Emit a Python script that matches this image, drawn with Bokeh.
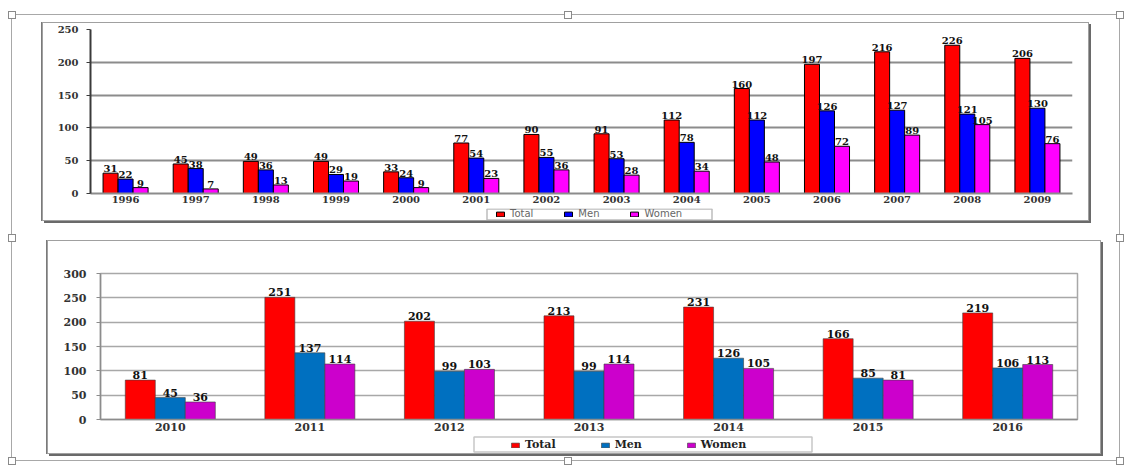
from bokeh.plotting import figure
from bokeh.models import (ColumnDataSource, FactorRange, Range1d, Legend, LegendItem,
                          FixedTicker, InlineStyleSheet, Spacer, BoxAnnotation)
from bokeh.transform import dodge
from bokeh.layouts import column, row
from bokeh.core.properties import value
from bokeh.embed import file_html
from bokeh.resources import INLINE

# ---------------- data ----------------
years_a = ["1996", "1997", "1998", "1999", "2000", "2001", "2002",
           "2003", "2004", "2005", "2006", "2007", "2008", "2009"]
total_a = [31, 45, 49, 49, 33, 77, 90, 91, 112, 160, 197, 216, 226, 206]
men_a = [22, 38, 36, 29, 24, 54, 55, 53, 78, 112, 126, 127, 121, 130]
women_a = [9, 7, 13, 19, 9, 23, 36, 28, 34, 48, 72, 89, 105, 76]
ticks_a = [0, 50, 100, 150, 200, 250]

years_b = ["2010", "2011", "2012", "2013", "2014", "2015", "2016"]
total_b = [81, 251, 202, 213, 231, 166, 219]
men_b = [45, 137, 99, 99, 126, 85, 106]
women_b = [36, 114, 103, 114, 105, 81, 113]
ticks_b = [0, 50, 100, 150, 200, 250, 300]

series = ["Total", "Men", "Women"]
colors_a = ["#ff0000", "#0000ff", "#ff00ff"]
colors_b = ["#ff0000", "#0070c0", "#cc00cc"]

SERIF_NAME = "DejaVu Serif"
SERIF = value(SERIF_NAME)

BOX_SHADOW = "0 0 0 1px #a0a0a0, 2px 2px 0 1px #6a6a6a, -1px 0 0 1px #7a7a7a"


def make_chart(years, total, men, women, ticks, ymax, colors, width, height,
               borders, bw, label_size, xlab_size, ylab_size, outline_bars):
    src = ColumnDataSource(dict(
        year=years, Total=total, Men=men, Women=women,
        Total_s=[str(v) for v in total], Men_s=[str(v) for v in men],
        Women_s=[str(v) for v in women]))
    bl, br, bt, bb = borders
    p = figure(x_range=FactorRange(factors=years), y_range=Range1d(0, ymax),
               width=width, height=height, output_backend="svg", toolbar_location=None,
               min_border_left=bl, min_border_right=br, min_border_top=bt,
               min_border_bottom=bb)
    for name, col, off in zip(series, colors, [-bw, 0, bw]):
        p.vbar(x=dodge("year", off, range=p.x_range), top=name, width=bw,
               source=src, fill_color=col,
               line_color="black" if outline_bars else "#404040",
               line_width=1 if outline_bars else 0.6)
        p.text(x=dodge("year", off, range=p.x_range), y=name, text=name + "_s",
               source=src, text_align="center", text_baseline="bottom",
               y_offset=-1, text_font=SERIF, text_font_style="bold",
               text_font_size=label_size, text_color="#111111")
    p.xgrid.grid_line_color = None
    p.yaxis.ticker = FixedTicker(ticks=ticks)
    p.yaxis.minor_tick_line_color = None
    p.yaxis.major_tick_in = 0
    p.yaxis.major_tick_out = 4
    p.yaxis.major_label_text_font = SERIF_NAME
    p.yaxis.major_label_text_font_style = "bold"
    p.yaxis.major_label_text_font_size = ylab_size
    p.yaxis.major_label_text_color = "#333333"
    p.xaxis.major_tick_line_color = None
    p.xaxis.major_tick_in = 0
    p.xaxis.major_tick_out = 0
    p.xaxis.minor_tick_line_color = None
    p.xaxis.major_label_text_font = SERIF_NAME
    p.xaxis.major_label_text_font_style = "bold"
    p.xaxis.major_label_text_font_size = xlab_size
    p.xaxis.major_label_text_color = "#333333"
    p.xaxis.major_label_standoff = 2
    return p


def make_legend_strip(width, height, frame_w, colors, outline_bars, loc, box, font,
                      font_style, font_size, text_color, glyph_w, spacing, border_color):
    # the strip's frame is aligned with the chart frame above it (frame_w pixels wide)
    q = figure(width=width, height=height, x_range=Range1d(0, frame_w),
               y_range=Range1d(0, height), min_border=0, x_axis_location=None,
               y_axis_location=None, toolbar_location=None, output_backend="svg")
    q.grid.visible = False
    q.outline_line_color = None
    items = []
    for name, col in zip(series, colors):
        r = q.vbar(x=[-5000], top=[0], width=1, fill_color=col,
                   line_color="black" if outline_bars else "#404040",
                   line_width=1 if outline_bars else 0.6)
        items.append(LegendItem(label=name, renderers=[r]))
    leg = Legend(items=items, orientation="horizontal", location=loc,
                 border_line_color=None, background_fill_alpha=0,
                 label_text_font=font, label_text_font_style=font_style,
                 label_text_font_size=font_size, label_text_color=text_color,
                 glyph_width=glyph_w, glyph_height=6, label_standoff=5,
                 spacing=spacing, padding=0, margin=0, label_height=8)
    q.add_layout(leg, "center")
    l, r_, b, t = box
    q.add_layout(BoxAnnotation(left=l, right=r_, bottom=b, top=t, fill_alpha=0,
                               line_color=border_color, line_width=1.5))
    return q


# ---------------- top chart (1996-2009) ----------------
p1 = make_chart(years_a, total_a, men_a, women_a, ticks_a, 250, colors_a,
                1045, 185, (47, 16, 6, 15), 0.214, "10px", "10px", "10px", True)
p1.ygrid.grid_line_color = "#8c8c8c"
p1.ygrid.grid_line_width = 2
p1.yaxis.axis_line_color = "#3a3a3a"
p1.yaxis.axis_line_width = 2
p1.yaxis.major_tick_line_color = "#3a3a3a"
p1.yaxis.major_label_standoff = 8
p1.xaxis.axis_line_color = "#8c8c8c"
p1.xaxis.axis_line_width = 2
p1.outline_line_color = None

lg1 = make_legend_strip(1045, 12, 982, colors_a, True, (405, 1), (396.5, 621.5, 0.5, 11.5),
                        "DejaVu Sans", "normal", "10px", "#666666", 10, 30, "#222222")
chart1 = column(p1, lg1, spacing=0, styles={"box-shadow": BOX_SHADOW})

# ---------------- bottom chart (2010-2016) ----------------
p2 = make_chart(years_b, total_b, men_b, women_b, ticks_b, 300, colors_b,
                1052, 194, (52, 23, 32, 16), 0.215, "11px", "11px", "11px", False)
p2.ygrid.grid_line_color = "#a8a8a8"
p2.ygrid.grid_line_width = 1.5
p2.yaxis.axis_line_color = "#8c8c8c"
p2.yaxis.axis_line_width = 1.5
p2.yaxis.major_tick_line_color = "#8c8c8c"
p2.yaxis.major_label_standoff = 10
p2.xaxis.axis_line_color = "#8c8c8c"
p2.xaxis.axis_line_width = 1.5
p2.xaxis.major_label_standoff = 3
p2.outline_line_color = "#a8a8a8"
p2.outline_line_width = 1.5

lg2 = make_legend_strip(1052, 18, 977, colors_b, False, (410, 2), (373.5, 711.5, 1.5, 16.5),
                        SERIF_NAME, "bold", "11px", "#222222", 10, 44, "#444444")
chart2 = column(p2, lg2, spacing=0, styles={"box-shadow": BOX_SHADOW})

# ---------------- document selection frame with its handles ----------------
handle_css = """
:host { position: relative; }
:host::before {
  content: ""; position: absolute; left: -4.5px; top: -4.5px;
  width: 6px; height: 6px; background: white; border: 1px solid #8a8a8a;
  z-index: 10;
  box-shadow: 556px 0 0 -1px #fff, 556px 0 0 0 #8a8a8a,
              1108px 0 0 -1px #fff, 1108px 0 0 0 #8a8a8a,
              0 223px 0 -1px #fff, 0 223px 0 0 #8a8a8a,
              1108px 223px 0 -1px #fff, 1108px 223px 0 0 #8a8a8a,
              0 446px 0 -1px #fff, 0 446px 0 0 #8a8a8a,
              556px 446px 0 -1px #fff, 556px 446px 0 0 #8a8a8a,
              1108px 446px 0 -1px #fff, 1108px 446px 0 0 #8a8a8a;
}
"""
row1 = row(Spacer(width=31, height=197), chart1, Spacer(width=31, height=197), spacing=0)
row2 = row(Spacer(width=36, height=212), chart2, Spacer(width=19, height=212), spacing=0)
root = column(Spacer(width=1107, height=8), row1, Spacer(width=1107, height=21), row2,
              Spacer(width=1107, height=7),
              spacing=0, margin=(14, 0, 0, 11),
              styles={"border": "1px solid #a8a8a8"},
              stylesheets=[InlineStyleSheet(css=handle_css)])

open("out.html", "w").write(file_html(root, INLINE))
